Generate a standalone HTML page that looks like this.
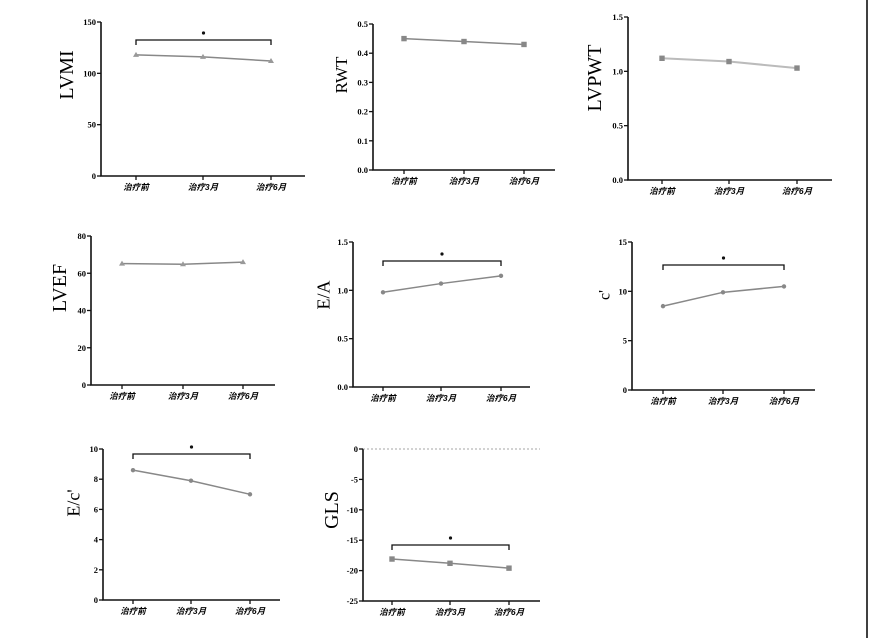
<!DOCTYPE html><html><head><meta charset="utf-8"><style>body{margin:0;background:#fff}svg{display:block}</style></head><body>
<svg id="s" width="872" height="638" xmlns="http://www.w3.org/2000/svg" font-family="Liberation Serif, serif"></svg>
<script>
const P=[
{ax:101,yt:22,yb:176,xe:305,tx:[136,203,271],min:0,max:150,ticks:[0,50,100,150],lab:['0','50','100','150'],d:[118,116,112],m:'t',name:'LVMI',lx:66,ly:75,fs:20,br:40},
{ax:373,yt:24,yb:170,xe:555,tx:[404,464,524],min:0,max:0.5,ticks:[0,.1,.2,.3,.4,.5],lab:['0.0','0.1','0.2','0.3','0.4','0.5'],d:[.45,.44,.43],m:'s',name:'RWT',lx:341,ly:75,fs:17},
{ax:628,yt:17,yb:180,xe:832,tx:[662,729,797],min:0,max:1.5,ticks:[0,.5,1,1.5],lab:['0.0','0.5','1.0','1.5'],d:[1.12,1.09,1.03],m:'s',name:'LVPWT',lx:594,ly:78,fs:20,lc:'#bbb',lw:2},
{ax:91,yt:236,yb:385,xe:275,tx:[122,183,243],min:0,max:80,ticks:[0,20,40,60,80],lab:['0','20','40','60','80'],d:[65.2,64.8,66],m:'t',name:'LVEF',lx:59,ly:288,fs:20},
{ax:353,yt:242,yb:387,xe:530,tx:[383,441,501],min:0,max:1.5,ticks:[0,.5,1,1.5],lab:['0.0','0.5','1.0','1.5'],d:[.98,1.07,1.15],m:'c',name:'E/A',lx:323,ly:295,fs:18,br:261},
{ax:632,yt:242,yb:390,xe:815,tx:[663,723,784],min:0,max:15,ticks:[0,5,10,15],lab:['0','5','10','15'],d:[8.5,9.9,10.5],m:'c',name:"c'",lx:604,ly:295,fs:16,br:265},
{ax:103,yt:449,yb:600,xe:280,tx:[133,191,250],min:0,max:10,ticks:[0,2,4,6,8,10],lab:['0','2','4','6','8','10'],d:[8.6,7.9,7.0],m:'c',name:"E/c'",lx:73,ly:503,fs:18,br:454},
{ax:363,yt:449,yb:601,xe:540,tx:[392,450,509],min:-25,max:0,ticks:[-25,-20,-15,-10,-5,0],lab:['-25','-20','-15','-10','-5','0'],d:[-18.1,-18.8,-19.6],m:'s',name:'GLS',lx:331,ly:510,fs:20,br:545,dot:1}
];
const X=['治疗前','治疗3月','治疗6月'];
let h='<line x1="867" y1="0" x2="867" y2="638" stroke="#000" stroke-width="1.5"/>';
for(const p of P){
 const Y=v=>p.yb-(v-p.min)/(p.max-p.min)*(p.yb-p.yt);
 h+=`<path d="M${p.ax} ${p.yt}V${p.yb}H${p.xe}" fill="none" stroke="#111" stroke-width="1.6"/>`;
 for(let i=0;i<p.ticks.length;i++){const y=Y(p.ticks[i]);
  h+=`<line x1="${p.ax-4}" y1="${y}" x2="${p.ax}" y2="${y}" stroke="#111" stroke-width="1.3"/><text x="${p.ax-5}" y="${y+3}" font-size="8.5" font-weight="bold" text-anchor="end">${p.lab[i]}</text>`;}
 for(let i=0;i<3;i++){const x=p.tx[i];
  h+=`<line x1="${x}" y1="${p.yb}" x2="${x}" y2="${p.yb+4}" stroke="#111" stroke-width="1.3"/><text x="${x}" y="${p.yb+14}" font-size="8.5" font-weight="bold" font-style="italic" text-anchor="middle" font-family="Liberation Sans, Noto Sans CJK SC, sans-serif">${X[i]}</text>`;}
 if(p.dot)h+=`<line x1="${p.ax}" y1="${p.yt}" x2="${p.xe}" y2="${p.yt}" stroke="#888" stroke-width="0.8" stroke-dasharray="2,2"/>`;
 const pts=p.d.map((v,i)=>[p.tx[i],Y(v)]);
 h+=`<polyline points="${pts.map(q=>q.join(',')).join(' ')}" fill="none" stroke="${p.lc||'#888'}" stroke-width="${p.lw||1.5}"/>`;
 for(const [x,y] of pts){
  if(p.m=='s')h+=`<rect x="${x-2.7}" y="${y-2.7}" width="5.4" height="5.4" fill="#888"/>`;
  else if(p.m=='t')h+=`<polygon points="${x},${y-3} ${x-3},${y+2} ${x+3},${y+2}" fill="#999"/>`;
  else h+=`<circle cx="${x}" cy="${y}" r="2.2" fill="#888"/>`;}
 if(p.br){const b=p.br;
  h+=`<path d="M${p.tx[0]} ${b+5}V${b}H${p.tx[2]}V${b+5}" fill="none" stroke="#111" stroke-width="1.3"/><circle cx="${(p.tx[0]+p.tx[2])/2}" cy="${b-7}" r="1.6" fill="#111"/>`;}
 h+=`<text transform="translate(${p.lx+p.fs*0.35},${p.ly}) rotate(-90)" font-size="${p.fs}" text-anchor="middle">${p.name}</text>`;
}
document.getElementById('s').innerHTML=h;
</script></body></html>
